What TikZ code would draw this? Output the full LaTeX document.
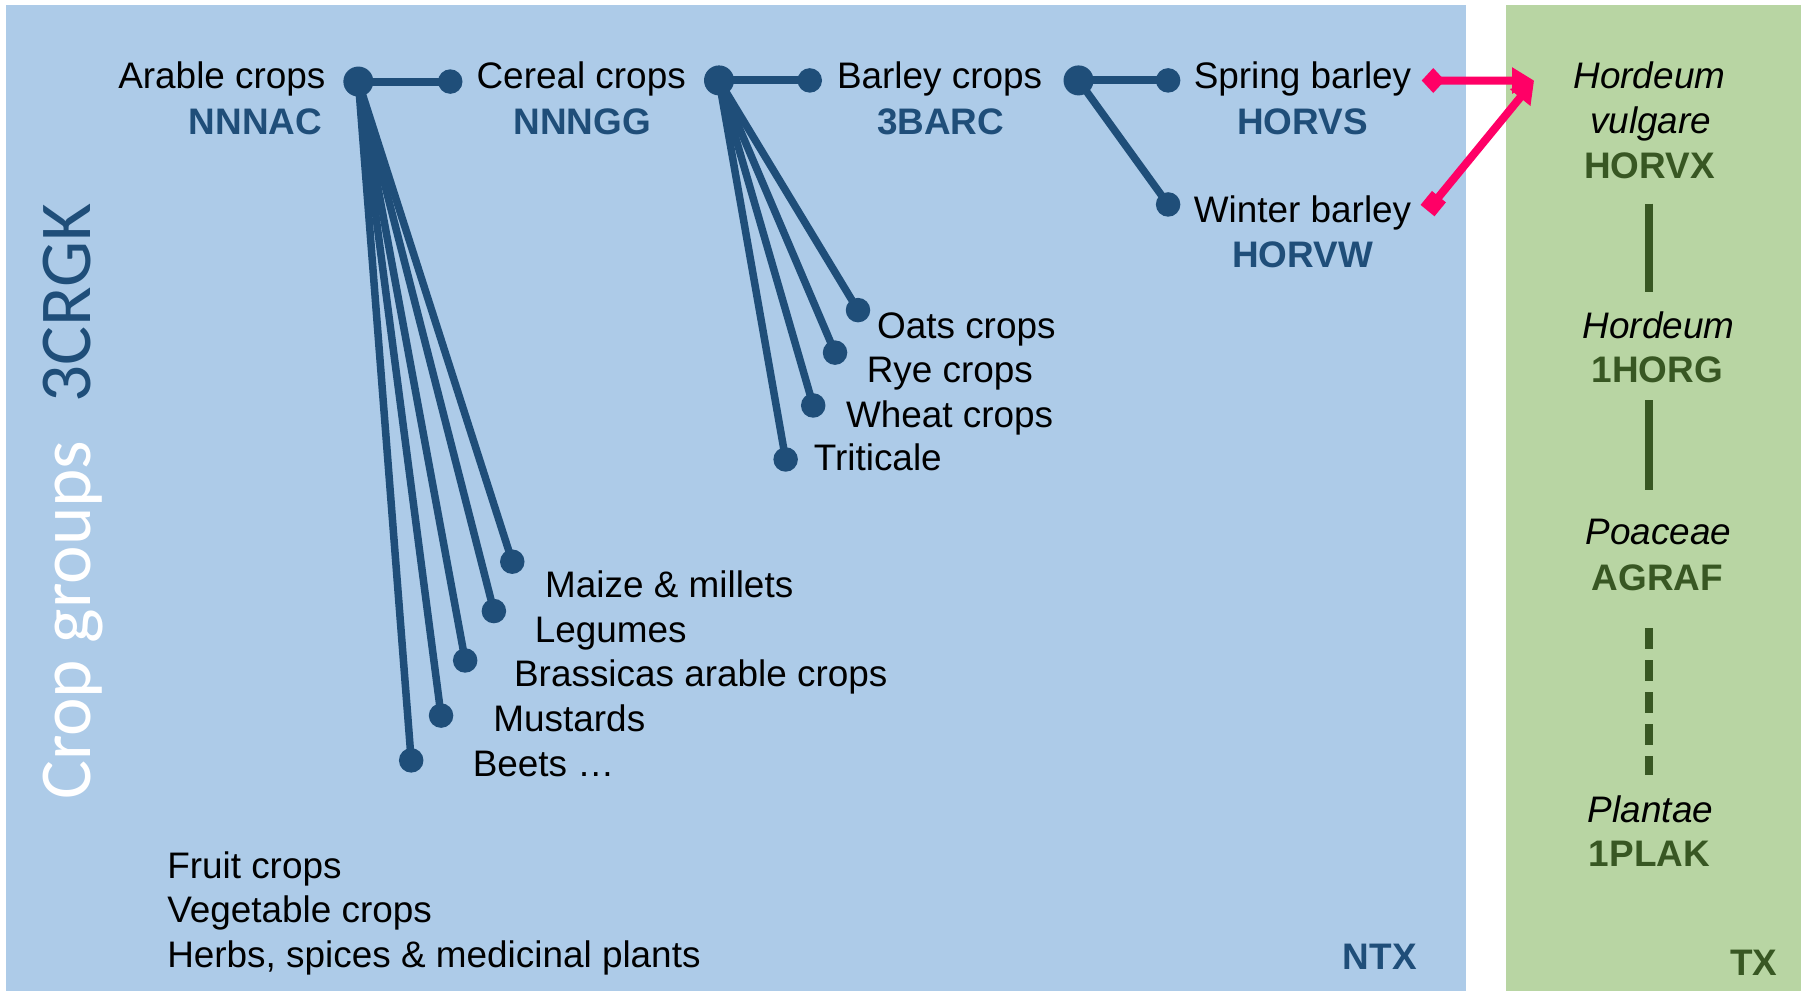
\documentclass[tikz,border=0pt]{standalone}
\usepackage{fontspec}
\setmainfont{Liberation Sans}
\newfontfamily\titlefont{Carlito}
\usetikzlibrary{arrows.meta, positioning}

\definecolor{panelblue}{HTML}{ADCBE8}
\definecolor{panelgreen}{HTML}{B8D5A3}
\definecolor{cropblue}{HTML}{1F4E79}
\definecolor{taxgreen}{HTML}{385723}
\definecolor{linkpink}{HTML}{FF0066}

\tikzset{
  croplbl/.style={inner sep=0pt, font=\fontsize{10.5}{12.6}\selectfont},
  cropcode/.style={croplbl, font=\fontsize{10.5}{12.6}\selectfont\bfseries, text=cropblue},
  taxname/.style={croplbl, font=\fontsize{10.5}{12.6}\selectfont\itshape},
  taxcode/.style={cropcode, text=taxgreen},
  cropdot/.style={circle, fill=cropblue, inner sep=0pt, minimum size=2.45mm},
  hubdot/.style={cropdot, minimum size=3mm},
  branch/.style={draw=cropblue, line width=0.75mm},
  rankline/.style={draw=taxgreen, line width=0.8mm},
  crosslink/.style={draw=linkpink, line width=0.8mm},
}

\begin{document}
\begin{tikzpicture}[x=0.11486mm, y=-0.11486mm]
    \useasboundingbox (0,0) rectangle (1568,863);
    % panels
    \fill[panelblue] (5,4) rectangle (1276,863);
    \fill[panelgreen] (1311,4) rectangle (1568,863);
    \node[rotate=90, anchor=base west, inner sep=0pt, text=white,
          font=\titlefont\fontsize{20.8}{24}\selectfont] (groups) at (79,697)
          {Crop groups\hspace{0.52em}\textcolor{cropblue}{3CRGK}};

    % arable crops
    \node[croplbl, anchor=base east] (arable) at (284,77) {Arable crops};
    \node[cropcode, anchor=base east] (arablecode) at (281,117) {NNNAC};
    \node[hubdot] (arablehub) at (312,71) {};
    \node[cropdot] (cerealdot) at (392,71) {};

    % cereal crops
    \node[croplbl, anchor=base] (cereal) at (506,77) {Cereal crops};
    \node[cropcode, anchor=base] (cerealcode) at (507,117) {NNNGG};
    \node[hubdot] (cerealhub) at (626,70) {};
    \node[cropdot] (barleydot) at (705,70) {};

    % barley crops
    \node[croplbl, anchor=base] (barley) at (818,77) {Barley crops};
    \node[cropcode, anchor=base] (barleycode) at (819,117) {3BARC};
    \node[hubdot] (barleyhub) at (939,70) {};
    \node[cropdot] (springdot) at (1017,70) {};
    \node[cropdot] (winterdot) at (1017,178) {};

    \node[croplbl, anchor=base] (spring) at (1134,77) {Spring barley};
    \node[cropcode, anchor=base] (springcode) at (1134,117) {HORVS};
    \node[croplbl, anchor=base] (winter) at (1134,194) {Winter barley};
    \node[cropcode, anchor=base] (wintercode) at (1134,233) {HORVW};

    % other cereals
    \node[cropdot] (oatsdot) at (747,270) {};
    \node[cropdot] (ryedot) at (727,307) {};
    \node[cropdot] (wheatdot) at (708,353) {};
    \node[cropdot] (triticaledot) at (684,400) {};
    \node[croplbl, anchor=base west] (oats) at (763,295) {Oats crops};
    \node[croplbl, anchor=base west] (rye) at (754,333) {Rye crops};
    \node[croplbl, anchor=base west] (wheat) at (736,372) {Wheat crops};
    \node[croplbl, anchor=base west] (triticale) at (708,410) {Triticale};

    % other arable crops
    \node[cropdot] (maizedot) at (446,489) {};
    \node[cropdot] (legumesdot) at (430,532) {};
    \node[cropdot] (brassicasdot) at (405,575) {};
    \node[cropdot] (mustardsdot) at (384,623) {};
    \node[cropdot] (beetsdot) at (358,662) {};
    \node[croplbl, anchor=base west] (maize) at (474,520) {Maize \& millets};
    \node[croplbl, anchor=base west] (legumes) at (465,559) {Legumes};
    \node[croplbl, anchor=base west] (brassicas) at (447,598) {Brassicas arable crops};
    \node[croplbl, anchor=base west] (mustards) at (429,637) {Mustards};
    \node[croplbl, anchor=base west] (beets) at (411,676) {Beets …};

    \node[croplbl, anchor=base west] (fruit) at (145,765) {Fruit crops};
    \node[croplbl, anchor=base west] (vegetable) at (145,803) {Vegetable crops};
    \node[croplbl, anchor=base west] (herbs) at (145,842) {Herbs, spices \& medicinal plants};
    \node[cropcode, anchor=base east] (ntx) at (1234,844) {NTX};

    \draw[branch, line width=0.8mm] (arablehub.center) -- (cerealdot.center);
    \draw[branch, line width=0.8mm] (cerealhub.center) -- (barleydot.center);
    \draw[branch, line width=0.8mm] (barleyhub.center) -- (springdot.center);
    \draw[branch] (barleyhub.center) -- (winterdot.center);
    \draw[branch] (cerealhub.center) -- (oatsdot.center);
    \draw[branch] (cerealhub.center) -- (ryedot.center);
    \draw[branch] (cerealhub.center) -- (wheatdot.center);
    \draw[branch] (cerealhub.center) -- (triticaledot.center);
    \draw[branch] (arablehub.center) -- (maizedot.center);
    \draw[branch] (arablehub.center) -- (legumesdot.center);
    \draw[branch] (arablehub.center) -- (brassicasdot.center);
    \draw[branch] (arablehub.center) -- (mustardsdot.center);
    \draw[branch] (arablehub.center) -- (beetsdot.center);

    % taxonomy
    \node[taxname, anchor=base] (hordeumv) at (1436,77) {Hordeum};
    \node[taxname, anchor=base] (vulgare) at (1437,116) {vulgare};
    \node[taxcode, anchor=base] (horvx) at (1436,155) {HORVX};
    \node[taxname, anchor=base] (hordeum) at (1444,295) {Hordeum};
    \node[taxcode, anchor=base] (horg) at (1443,333) {1HORG};
    \node[taxname, anchor=base] (poaceae) at (1444,474) {Poaceae};
    \node[taxcode, anchor=base] (agraf) at (1443,514) {AGRAF};
    \node[taxname, anchor=base] (plantae) at (1437,716) {Plantae};
    \node[taxcode, anchor=base] (plak) at (1436,754) {1PLAK};
    \node[taxcode, anchor=base east] (tx) at (1548,849) {TX};

    \draw[rankline, shorten <=2.45mm, shorten >=1.95mm] (horvx.south -| plak) -- (hordeum.north -| plak);
    \draw[rankline, shorten <=1.67mm, shorten >=2.84mm] (horg.south -| plak) -- (poaceae.north -| plak);
    \draw[rankline, dash pattern=on 2.1mm off 1.1mm, shorten <=3.68mm, shorten >=1.96mm]
        (agraf.south -| plak) -- (plantae.north -| plak);

    % crop to taxon
    \coordinate (hvin) at ([xshift=-3.87mm, yshift=-0.53mm]hordeumv.west);
    \draw[crosslink, {Diamond[length=2.3mm, width=2.5mm]}-{Triangle[length=2.2mm, width=2.5mm]}]
        ([xshift=0.98mm, yshift=-0.16mm]spring.east) -- (hvin);
    \draw[crosslink, {Square[length=1.8mm, width=1.8mm]}-{Triangle[length=2.2mm, width=2.5mm]}]
        ([xshift=1.56mm, yshift=0.27mm]winter.east) -- (hvin);
\end{tikzpicture}
\end{document}
